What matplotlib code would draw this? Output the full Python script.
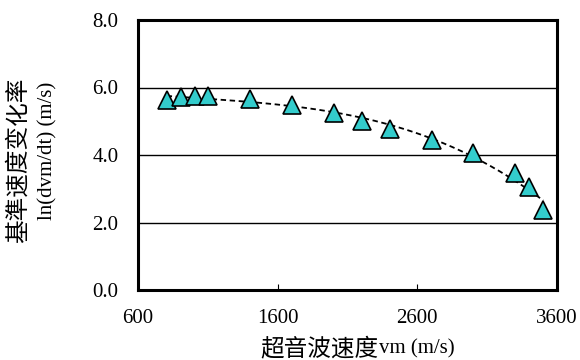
import numpy as np
import matplotlib
matplotlib.use("Agg")
import matplotlib.pyplot as plt

plt.rcParams['font.family'] = ['Liberation Serif', 'Noto Sans CJK SC']

# data
vm = [805, 906, 1008, 1103, 1402, 1700, 2003, 2203, 2404, 2702, 3000, 3299, 3402, 3502]
ln_rate = [5.63, 5.72, 5.74, 5.75, 5.65, 5.48, 5.23, 5.01, 4.78, 4.43, 4.07, 3.47, 3.06, 2.36]

x_ticks = [600, 1600, 2600, 3600]
y_ticks = [0.0, 2.0, 4.0, 6.0, 8.0]

W, H = 580, 360
fig = plt.figure(figsize=(W / 100, H / 100), dpi=100)
ax = fig.add_axes([138 / W, 70 / H, 419 / W, 270 / H])

# trend line (polynomial fit of the points)
coef = np.polyfit(vm, ln_rate, 3)
xs = np.linspace(min(vm), max(vm), 200)
ax.plot(xs, np.polyval(coef, xs), color='black', ls=(0, (3, 2)), lw=1.3, zorder=2)

ax.plot(vm, ln_rate, ls='none', marker='^', ms=13, mfc='#33CCCC', mec='black', mew=1.2, zorder=3)

for y in [2.0, 4.0, 6.0]:
    ax.axhline(y, color='black', lw=1.0, zorder=1)

ax.set_xlim(600, 3600)
ax.set_ylim(0, 8)
ax.set_xticks(x_ticks)
ax.set_yticks(y_ticks)
ax.set_yticklabels([f"{v:.1f}" for v in y_ticks])
ax.tick_params(axis='x', direction='in', length=4, pad=14, labelsize=15)
ax.tick_params(axis='y', direction='in', length=0, pad=14, labelsize=15)
for s in ax.spines.values():
    s.set_linewidth(2.2)

# axis titles (CJK part a bit larger, as in the original)
fig.text(378 / W, 1 - 349 / H, '超音波速度', fontsize=17, fontweight='light', ha='right', va='center')
fig.text(379 / W, 1 - 349 / H, 'vm (m/s)', fontsize=15, ha='left', va='center')
fig.text(18 / W, 1 - 160 / H, '基準速度变化率', fontsize=17, fontweight='light', rotation=90, ha='center', va='center')
fig.text(48 / W, 1 - 151 / H, 'ln(dvm/dt) (m/s)', fontsize=15, rotation=90, ha='center', va='center')

fig.savefig('out.png', dpi=100)
